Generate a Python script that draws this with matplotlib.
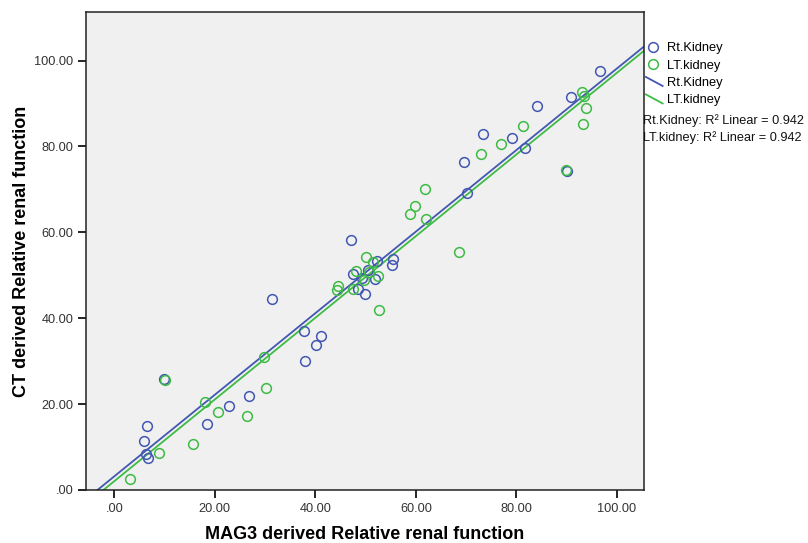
import numpy as np
import matplotlib
matplotlib.use("Agg")
import matplotlib.pyplot as plt
from matplotlib.lines import Line2D
from matplotlib.legend_handler import HandlerBase

plt.rcParams['font.family'] = ['Liberation Sans', 'DejaVu Sans']

# Rt.Kidney: MAG3 (x) vs CT (y)
rt_mag3 = [6.6, 6.0, 6.3, 6.8, 9.9, 90.0, 18.5, 22.9, 26.8, 38.0,
           96.6, 90.9, 84.2, 81.7, 79.1, 73.4, 69.6, 70.2, 31.3, 37.8,
           41.1, 40.1, 47.1, 52.3, 55.5, 55.2, 47.5, 50.4, 51.8, 48.4,
           49.9, 49.2]
rt_ct = [14.9, 11.3, 8.3, 7.5, 25.8, 74.3, 15.4, 19.6, 22.0, 30.0,
         97.6, 91.6, 89.4, 79.7, 82.0, 82.9, 76.4, 69.2, 44.5, 37.0,
         35.9, 33.8, 58.2, 53.4, 53.8, 52.5, 50.2, 51.2, 49.2, 46.9,
         45.7, 49.3]
# LT.kidney
lt_mag3 = [93.2, 93.8, 93.5, 93.1, 89.9, 10.0, 81.3, 76.9, 73.0, 61.8,
           3.2, 8.9, 15.6, 18.1, 20.7, 26.4, 30.2, 29.7, 68.6, 62.0,
           58.8, 59.8, 52.7, 47.5, 44.4, 44.6, 52.4, 49.6, 48.0, 51.4,
           50.0, 50.7]
lt_ct = [85.3, 88.9, 91.8, 92.7, 74.4, 25.7, 84.7, 80.5, 78.2, 70.2,
         2.5, 8.5, 10.6, 20.4, 18.2, 17.2, 23.7, 30.9, 55.5, 63.0,
         64.2, 66.2, 41.9, 46.7, 46.5, 47.6, 49.8, 49.0, 50.9, 53.2,
         54.3, 50.8]

series_names = ["Rt.Kidney", "LT.kidney"]
r2_values = ["0.942", "0.942"]
x_ticks = [0, 20, 40, 60, 80, 100]
x_tick_labels = [".00", "20.00", "40.00", "60.00", "80.00", "100.00"]
y_ticks = [0, 20, 40, 60, 80, 100]
y_tick_labels = [".00", "20.00", "40.00", "60.00", "80.00", "100.00"]

BLUE = "#4257B2"
GREEN = "#3DBB45"

fig = plt.figure(figsize=(8.08, 5.43), dpi=100)
ax = fig.add_axes([86 / 808, 1 - 490 / 543, (644 - 86) / 808, (490 - 12) / 543])
ax.set_facecolor("#F0F0F0")

xlim = (-5.63, 105.4)
ylim = (0, 111.3)
ax.set_xlim(*xlim)
ax.set_ylim(*ylim)

for xs, ys, col in [(rt_mag3, rt_ct, BLUE), (lt_mag3, lt_ct, GREEN)]:
    ax.plot(xs, ys, linestyle="none", marker="o", markersize=7,
            markerfacecolor="none", markeredgecolor=col, markeredgewidth=1.1,
            zorder=3)

for xs, ys, col in [(rt_mag3, rt_ct, BLUE), (lt_mag3, lt_ct, GREEN)]:
    b, a = np.polyfit(xs, ys, 1)
    xx = np.array(xlim)
    ax.plot(xx, a + b * xx, color=col, lw=1.3, zorder=2)

ax.set_xticks(x_ticks)
ax.set_xticklabels(x_tick_labels)
ax.set_yticks(y_ticks)
ax.set_yticklabels(y_tick_labels)
ax.tick_params(direction="out", length=6, width=1.2, labelsize=9.2,
               labelcolor="#333333", pad=3)
for s in ax.spines.values():
    s.set_linewidth(1.1)
    s.set_color("#222222")

ax.set_xlabel("MAG3 derived Relative renal function", fontsize=13,
              fontweight="bold", labelpad=8)
ax.set_ylabel("CT derived Relative renal function", fontsize=13,
              fontweight="bold", labelpad=3)


class DiagHandler(HandlerBase):
    def create_artists(self, legend, orig_handle, xdescent, ydescent,
                       width, height, fontsize, trans):
        x0 = -xdescent
        y0 = -ydescent
        line = Line2D([x0 + width * 0.05, x0 + width * 1.05],
                      [y0 + height * 1.0, y0 + height * 0.0],
                      color=orig_handle.get_color(),
                      lw=orig_handle.get_linewidth(), transform=trans)
        return [line]


h1 = Line2D([], [], linestyle="none", marker="o", markersize=7,
            markerfacecolor="none", markeredgecolor=BLUE, markeredgewidth=1.1)
h2 = Line2D([], [], linestyle="none", marker="o", markersize=7,
            markerfacecolor="none", markeredgecolor=GREEN, markeredgewidth=1.1)
h3 = Line2D([], [], color=BLUE, lw=1.3)
h4 = Line2D([], [], color=GREEN, lw=1.3)

leg = fig.legend([h1, h2, h3, h4], series_names + series_names,
                 handler_map={h3: DiagHandler(), h4: DiagHandler()},
                 loc="upper left", bbox_to_anchor=(645 / 808, 1 - 42 / 543),
                 frameon=False, fontsize=9.3, handlelength=1.3,
                 handletextpad=0.4, labelspacing=0.42, borderaxespad=0,
                 borderpad=0)

for i, (name, r2) in enumerate(zip(series_names, r2_values)):
    fig.text(643 / 808, 1 - (121 + i * 17) / 543,
             f"{name}: R\u00b2 Linear = {r2}", fontsize=9.2, va="center",
             ha="left", color="#111111")

fig.savefig("out.png", dpi=100, facecolor="white")
